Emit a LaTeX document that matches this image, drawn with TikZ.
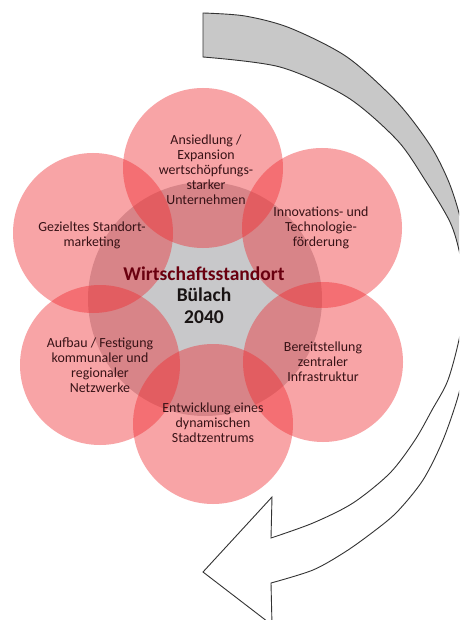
\documentclass[tikz,border=0pt]{standalone}
\usepackage{fontspec}
\setmainfont{Carlito}
\definecolor{petalred}{RGB}{240,40,45}
\definecolor{centergray}{RGB}{200,200,202}
\definecolor{arrowgray}{RGB}{200,200,200}
\definecolor{lbltext}{RGB}{55,18,22}
\definecolor{titlered}{RGB}{105,0,15}
\definecolor{titledark}{RGB}{25,20,20}
\begin{document}
\begin{tikzpicture}[x=1pt,y=-1pt,
  petal/.style={circle,minimum size=160pt,inner sep=0pt,fill=petalred,fill opacity=0.42},
  hub/.style={circle,minimum size=234pt,inner sep=0pt,fill=centergray},
  lbl/.style={align=center,inner sep=0pt,text=lbltext,font=\fontsize{13.9}{15}\selectfont},
  title/.style={align=center,inner sep=0pt,font=\bfseries\fontsize{19.5}{21.5}\selectfont},
  arrowline/.style={draw=black!80,line width=0.9pt,line join=miter}]
\useasboundingbox (0,0) rectangle (459,620);
\clip (0,0) rectangle (459,620);
\fill[white] (0,0) rectangle (459,620);
\def\arrowpath{plot[smooth] coordinates {(203,13) (245,16) (290,28) (347,57) (397,102) (430,145) (448,180) (459,213) (468,255) (471,300) (467,350) (459,393) (443,440) (423,480) (397,512) (373,532) (345,552) (313,570) (271,583)}
  -- (272,625) -- (203,572) -- (272,497) -- (271,538)
  -- plot[smooth] coordinates {(271,538) (313,523) (353,503) (390,473) (415,440) (432,410) (448,380) (460,335) (465,295) (460,255) (450,222) (425,180) (397,140) (347,97) (280,67) (203,57)}
  -- cycle}
\begin{scope}
  \clip (0,0) rectangle (459,295);
  \fill[arrowgray] \arrowpath;
\end{scope}
\draw[arrowline] \arrowpath;
% circles
\node[hub] (hub) at (205,299) {};
\node[petal] (p1) at (203,168) {};
\node[petal] (p2) at (322,228) {};
\node[petal] (p3) at (323,362) {};
\node[petal] (p4) at (213,424) {};
\node[petal] (p5) at (100,365) {};
\node[petal] (p6) at (93,233) {};
% labels
\node[lbl] (t1) at (206,170) {Ansiedlung /\\Expansion\\wertschöpfungs-\\starker\\Unternehmen};
\node[lbl] (t2) at (321,228) {Innovations- und\\Technologie-\\förderung};
\node[lbl] (t3) at (323,362) {Bereitstellung\\zentraler\\Infrastruktur};
\node[lbl] (t4) at (213,423) {Entwicklung eines\\dynamischen\\Stadtzentrums};
\node[lbl] (t5) at (100,365) {Aufbau / Festigung\\kommunaler und\\regionaler\\Netzwerke};
\node[lbl] (t6) at (92,235) {Gezieltes Standort-\\marketing};
\node[title] (tc) at (204,295) {\textcolor{titlered}{Wirtschaftsstandort}\\\textcolor{titledark}{Bülach}\\\textcolor{titledark}{2040}};
\end{tikzpicture}
\end{document}
